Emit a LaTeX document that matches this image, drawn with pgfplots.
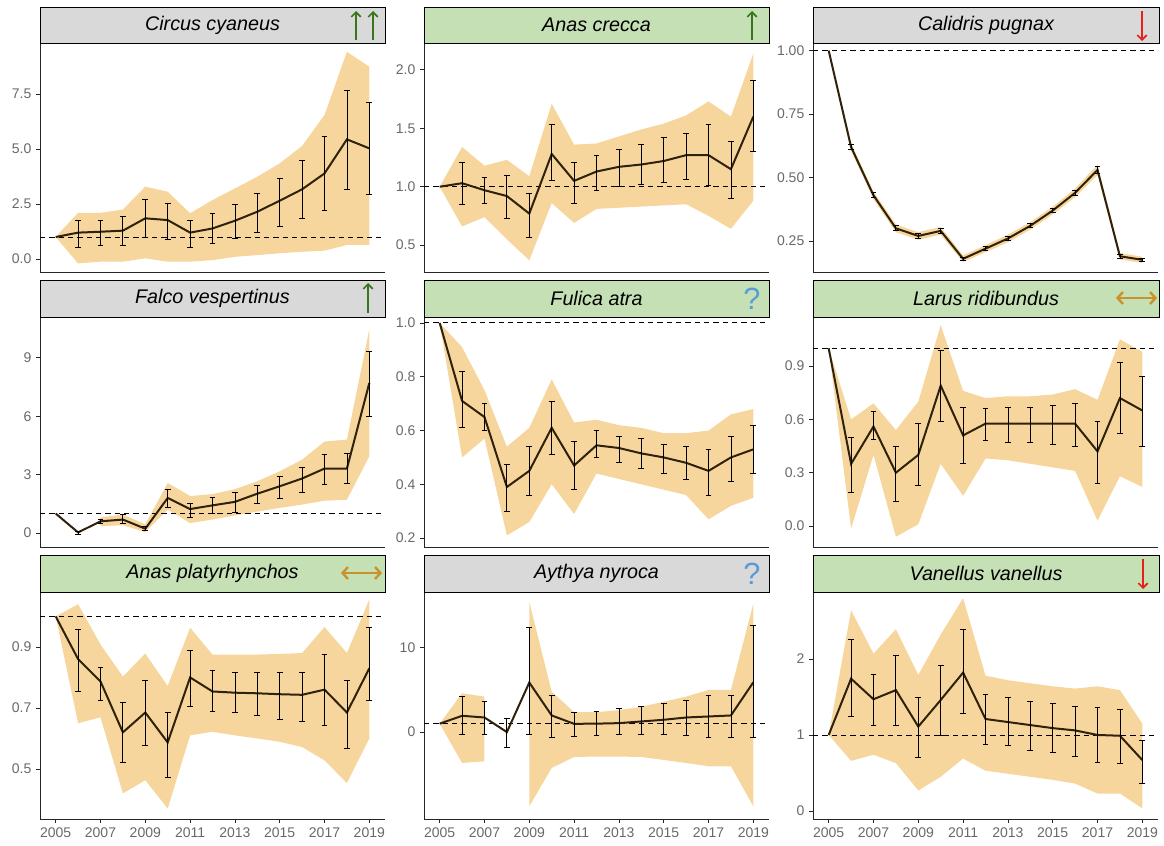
\documentclass[border=0pt]{standalone}
\usepackage{fontspec}
\setmainfont{Liberation Sans}
\usepackage{pgfplots}
\pgfplotsset{compat=1.18}
\usepackage{pgfplotstable}
\usepgfplotslibrary{fillbetween}
\usetikzlibrary{arrows.meta}

\definecolor{rib}{RGB}{246,214,156}
\definecolor{linebrown}{RGB}{48,33,12}
\definecolor{stripgray}{RGB}{217,217,217}
\definecolor{stripgreen}{RGB}{197,224,180}
\definecolor{tickgray}{RGB}{105,105,105}
\definecolor{agreen}{RGB}{56,118,29}
\definecolor{ared}{RGB}{232,32,26}
\definecolor{agold}{RGB}{201,146,43}
\definecolor{ablue}{RGB}{91,155,213}

% columns: year, index, ribbon low, ribbon high, error-bar low, error-bar high
\pgfplotstableread{
x y lo hi el eh
2005 1.00 1.00 1.00 1.00 1.00
2006 1.20 -0.20 2.10 0.53 1.74
2007 1.24 -0.12 2.10 0.64 1.74
2008 1.29 -0.12 2.25 0.64 1.95
2009 1.85 0.03 3.29 0.98 2.73
2010 1.77 -0.12 3.06 0.89 2.53
2011 1.20 -0.12 2.08 0.53 1.74
2012 1.39 -0.05 2.68 0.71 2.08
2013 1.74 0.10 3.21 0.94 2.48
2014 2.15 0.18 3.74 1.21 2.98
2015 2.65 0.26 4.35 1.50 3.67
2016 3.17 0.33 5.14 1.83 4.47
2017 3.89 0.38 6.55 2.23 5.56
2018 5.44 0.64 9.42 3.18 7.68
2019 5.03 0.64 8.74 2.94 7.10
}\tCircus

\pgfplotstableread{
x y lo hi el eh
2005 1.00 1.00 1.00 1.00 1.00
2006 1.03 0.66 1.34 0.85 1.21
2007 0.97 0.74 1.18 0.86 1.08
2008 0.92 0.55 1.23 0.73 1.10
2009 0.77 0.37 1.09 0.57 0.94
2010 1.28 0.86 1.71 1.05 1.53
2011 1.05 0.69 1.36 0.86 1.21
2012 1.13 0.81 1.37 0.97 1.27
2013 1.17 0.82 1.43 1.00 1.32
2014 1.19 0.83 1.49 1.02 1.36
2015 1.22 0.84 1.54 1.04 1.42
2016 1.27 0.85 1.61 1.06 1.46
2017 1.27 0.75 1.73 1.01 1.53
2018 1.15 0.64 1.60 0.90 1.39
2019 1.60 0.88 2.14 1.30 1.91
}\tCrecca

\pgfplotstableread{
x y lo hi el eh
2005 1.000 1.000 1.000 1.000 1.000
2006 0.620 0.605 0.635 0.610 0.630
2007 0.430 0.415 0.445 0.420 0.440
2008 0.300 0.285 0.315 0.290 0.310
2009 0.270 0.255 0.285 0.260 0.280
2010 0.290 0.275 0.305 0.280 0.300
2011 0.180 0.167 0.193 0.173 0.187
2012 0.220 0.206 0.234 0.212 0.228
2013 0.260 0.245 0.275 0.252 0.268
2014 0.310 0.295 0.325 0.302 0.318
2015 0.370 0.355 0.385 0.362 0.378
2016 0.440 0.423 0.457 0.430 0.450
2017 0.530 0.510 0.550 0.518 0.545
2018 0.190 0.177 0.203 0.182 0.198
2019 0.176 0.164 0.188 0.170 0.182
}\tCalidris

\pgfplotstableread{
x y lo hi el eh
2005 1.00 1.00 1.00 1.00 1.00
2006 0.03 0.03 0.03 -0.05 0.10
2007 0.60 0.35 0.80 0.48 0.68
2008 0.69 0.40 0.95 0.51 0.94
2009 0.22 0.05 0.45 0.12 0.34
2010 1.80 1.20 2.57 1.29 2.26
2011 1.23 0.51 1.90 0.82 1.54
2012 1.42 0.69 2.00 1.03 1.83
2013 1.60 0.90 2.25 1.06 2.11
2014 2.02 1.10 2.66 1.54 2.45
2015 2.40 1.29 3.17 1.80 2.91
2016 2.80 1.46 3.77 2.11 3.39
2017 3.31 1.66 4.70 2.49 4.03
2018 3.31 1.71 4.80 2.57 4.11
2019 7.71 3.94 10.46 6.00 9.34
}\tFalco

\pgfplotstableread{
x y lo hi el eh
2005 1.00 1.00 1.00 1.00 1.00
2006 0.71 0.50 0.91 0.61 0.82
2007 0.65 0.57 0.75 0.60 0.70
2008 0.39 0.21 0.54 0.30 0.475
2009 0.45 0.26 0.61 0.36 0.54
2010 0.61 0.40 0.79 0.51 0.71
2011 0.47 0.29 0.63 0.38 0.56
2012 0.545 0.44 0.64 0.50 0.60
2013 0.535 0.42 0.62 0.48 0.58
2014 0.515 0.40 0.61 0.46 0.57
2015 0.50 0.38 0.59 0.44 0.55
2016 0.48 0.36 0.59 0.42 0.54
2017 0.45 0.27 0.60 0.36 0.53
2018 0.50 0.32 0.66 0.41 0.58
2019 0.53 0.35 0.68 0.44 0.62
}\tFulica

\pgfplotstableread{
x y lo hi el eh
2005 1.00 1.00 1.00 1.00 1.00
2006 0.35 -0.015 0.60 0.19 0.50
2007 0.56 0.40 0.69 0.49 0.645
2008 0.30 -0.06 0.54 0.14 0.45
2009 0.40 0.01 0.70 0.23 0.576
2010 0.79 0.35 1.13 0.59 0.99
2011 0.51 0.17 0.76 0.355 0.67
2012 0.576 0.38 0.72 0.48 0.66
2013 0.576 0.37 0.73 0.47 0.67
2014 0.576 0.35 0.73 0.47 0.67
2015 0.576 0.33 0.74 0.46 0.68
2016 0.576 0.31 0.77 0.45 0.69
2017 0.42 0.03 0.71 0.24 0.59
2018 0.72 0.28 1.05 0.52 0.92
2019 0.65 0.22 0.98 0.45 0.84
}\tLarus

\pgfplotstableread{
x y lo hi el eh
2005 1.00 1.00 1.00 1.00 1.00
2006 0.86 0.65 1.04 0.754 0.957
2007 0.787 0.669 0.908 0.724 0.833
2008 0.62 0.42 0.803 0.52 0.718
2009 0.685 0.463 0.878 0.578 0.79
2010 0.587 0.37 0.772 0.474 0.686
2011 0.80 0.61 0.963 0.704 0.89
2012 0.754 0.622 0.875 0.69 0.822
2013 0.75 0.61 0.875 0.685 0.816
2014 0.748 0.60 0.875 0.675 0.816
2015 0.745 0.589 0.877 0.664 0.816
2016 0.743 0.572 0.88 0.655 0.816
2017 0.76 0.528 0.965 0.644 0.875
2018 0.685 0.454 0.88 0.567 0.79
2019 0.83 0.60 1.056 0.726 0.965
}\tPlaty

\pgfplotstableread{
x y lo hi el eh
2005 1.00 1.00 1.00 1.00 1.00
2006 1.93 -3.66 4.60 -0.30 4.20
2007 1.73 -3.46 4.20 -0.30 3.60
2008 0.00 0.00 0.00 -1.80 1.65
2009 5.87 -8.80 15.40 -0.30 12.40
2010 1.97 -4.25 4.80 -0.60 4.40
2011 0.98 -2.95 2.36 -0.50 2.30
2012 1.00 -2.90 2.36 -0.40 2.45
2013 1.06 -2.90 2.60 -0.30 2.83
2014 1.26 -2.95 3.00 -0.30 3.10
2015 1.46 -3.30 3.60 -0.30 3.40
2016 1.73 -3.66 4.20 -0.40 3.80
2017 1.85 -4.05 5.00 -0.60 4.40
2018 1.97 -4.05 5.00 -0.60 4.40
2019 5.90 -8.80 15.20 -0.60 12.60
}\tAythya

\pgfplotstableread{
x y lo hi el eh
2005 1.00 1.00 1.00 1.00 1.00
2006 1.74 0.66 2.64 1.24 2.26
2007 1.47 0.74 2.07 1.12 1.80
2008 1.59 0.63 2.39 1.13 2.05
2009 1.11 0.27 1.79 0.70 1.50
2010 1.46 0.45 2.32 0.99 1.92
2011 1.82 0.69 2.80 1.29 2.39
2012 1.21 0.53 1.78 0.88 1.54
2013 1.17 0.49 1.72 0.86 1.50
2014 1.13 0.45 1.68 0.80 1.44
2015 1.09 0.41 1.64 0.77 1.41
2016 1.06 0.36 1.61 0.72 1.37
2017 1.00 0.23 1.64 0.64 1.36
2018 0.99 0.23 1.59 0.63 1.33
2019 0.67 0.035 1.15 0.36 0.93
}\tVanellus

\pgfplotsset{
  panel/.style={
    scale only axis, width=258.75pt, anchor=south west,
    xmin=2004.3, xmax=2019.7,
    axis x line*=bottom, axis y line*=left,
    axis line style={-, draw=black!85, line width=0.7pt},
    tick align=outside, major tick length=3pt,
    tick style={draw=black!85, line width=0.6pt},
    ticklabel style={font=\fontsize{10.5}{11}\selectfont, text=tickgray},
    /pgf/number format/assume math mode=true,
    /pgf/number format/1000 sep={},
    xtick=\empty,
  },
  rowA/.style={height=171.75pt},
  rowB/.style={height=172.5pt},
  rowC/.style={height=170.25pt, xtick={2005,2007,...,2019}},
  dec1/.style={yticklabel style={/pgf/number format/.cd, fixed, fixed zerofill, precision=1}},
  dec2/.style={yticklabel style={/pgf/number format/.cd, fixed, fixed zerofill, precision=2}},
  ebar/.style={draw=none, mark=none, forget plot,
    error bars/y dir=both, error bars/y explicit,
    error bars/error bar style={draw=black, solid, line width=0.6pt},
    error bars/error mark options={draw=black, solid, line width=0.6pt, mark size=2.2pt, rotate=90}},
}

\newcommand\ribbon[2][]{%
  \addplot[name path=U, draw=none, forget plot, #1] table[x=x,y=hi]{#2};
  \addplot[name path=L, draw=none, forget plot, #1] table[x=x,y=lo]{#2};
  \addplot[fill=rib, draw=none, forget plot] fill between[of=U and L];
}
\newcommand\series[1]{%
  \addplot[black, line width=0.65pt, dash pattern=on 4pt off 3pt, forget plot] coordinates {(2004.3,1) (2019.7,1)};
  \addplot[line width=1.5pt, linebrown, mark=none, forget plot] table[x=x,y=y]{#1};
  \addplot[skip coords between index={0}{1}, ebar] table[x=x,y=y,
     y error plus expr=\thisrow{eh}-\thisrow{y},
     y error minus expr=\thisrow{y}-\thisrow{el}]{#1};
}

\begin{document}
\begin{tikzpicture}
\begin{scope}[x=0.75pt,y=-0.75pt]
\useasboundingbox (0,0) rectangle (1164,846);
\end{scope}

% Row 1
\begin{axis}[panel, rowA, dec1, at={(30pt,-204pt)}, ymin=-0.59, ymax=9.82, ytick={0,2.5,5,7.5}]
\ribbon{\tCircus}
\series{\tCircus}
\end{axis}
\begin{axis}[panel, rowA, dec1, at={(318pt,-204pt)}, ymin=0.27, ymax=2.23, ytick={0.5,1,1.5,2}]
\ribbon{\tCrecca}
\series{\tCrecca}
\end{axis}
\begin{axis}[panel, rowA, dec2, at={(609.75pt,-204pt)}, ymin=0.128, ymax=1.03, ytick={0.25,0.5,0.75,1}]
\ribbon{\tCalidris}
\series{\tCalidris}
\end{axis}

% Row 2
\begin{axis}[panel, rowB, at={(30pt,-410.25pt)}, ymin=-0.72, ymax=11.1, ytick={0,3,6,9}]
\ribbon[skip coords between index={0}{2}]{\tFalco}
\series{\tFalco}
\end{axis}
\begin{axis}[panel, rowB, dec1, at={(318pt,-410.25pt)}, ymin=0.167, ymax=1.022, ytick={0.2,0.4,0.6,0.8,1}]
\ribbon{\tFulica}
\series{\tFulica}
\end{axis}
\begin{axis}[panel, rowB, dec1, at={(609.75pt,-410.25pt)}, ymin=-0.118, ymax=1.176, ytick={0,0.3,0.6,0.9}]
\ribbon{\tLarus}
\series{\tLarus}
\end{axis}

% Row 3
\begin{axis}[panel, rowC, dec1, at={(30pt,-614.25pt)}, ymin=0.336, ymax=1.08, ytick={0.5,0.7,0.9}]
\ribbon{\tPlaty}
\series{\tPlaty}
\end{axis}
\begin{axis}[panel, rowC, at={(318pt,-614.25pt)}, ymin=-10.3, ymax=16.6, ytick={0,10}]
\ribbon[skip coords between index={3}{15}]{\tAythya}
\ribbon[skip coords between index={0}{4}]{\tAythya}
\series{\tAythya}
\end{axis}
\begin{axis}[panel, rowC, at={(609.75pt,-614.25pt)}, ymin=-0.105, ymax=2.88, ytick={0,1,2}]
\ribbon{\tVanellus}
\series{\tVanellus}
\end{axis}

% strips, titles and trend symbols
\begin{scope}[x=0.75pt,y=-0.75pt]
\tikzset{strip/.style={draw=black, line width=0.75pt},
  ttl/.style={font=\fontsize{14.8}{16}\selectfont\itshape, text=black},
  up/.style={draw=agreen, line width=1.3pt, -{Straight Barb[length=3.5pt,width=7pt]}},
  down/.style={draw=ared, line width=1.3pt, -{Straight Barb[length=3.5pt,width=7pt]}},
  both/.style={draw=agold, line width=1.8pt, {Straight Barb[length=4pt,width=9pt]}-{Straight Barb[length=4pt,width=9pt]}},
  qm/.style={font=\fontsize{23}{23}\selectfont, text=ablue}}
\filldraw[strip, fill=stripgray] (40,7) rectangle (385,43);
\node[ttl] at (212.5,25) {Circus cyaneus};
\draw[up] (356,40) -- (356,11);
\draw[up] (373,40) -- (373,11);

\filldraw[strip, fill=stripgreen] (424,7) rectangle (769,43);
\node[ttl] at (596.5,25) {Anas crecca};
\draw[up] (752,40) -- (752,11);

\filldraw[strip, fill=stripgray] (813,7) rectangle (1159,43);
\node[ttl] at (986,25) {Calidris pugnax};
\draw[down] (1142,11) -- (1142,41);

\filldraw[strip, fill=stripgray] (40,280) rectangle (385,317);
\node[ttl] at (212.5,298.5) {Falco vespertinus};
\draw[up] (368,313) -- (368,283);

\filldraw[strip, fill=stripgreen] (424,280) rectangle (769,317);
\node[ttl] at (596.5,298.5) {Fulica atra};
\node[qm] at (752,299) {?};

\filldraw[strip, fill=stripgreen] (813,280) rectangle (1159,317);
\node[ttl] at (986,298.5) {Larus ridibundus};
\draw[both] (1116,298) -- (1157,298);

\filldraw[strip, fill=stripgreen] (40,555) rectangle (385,592);
\node[ttl] at (212.5,573.5) {Anas platyrhynchos};
\draw[both] (341,573) -- (382,573);

\filldraw[strip, fill=stripgray] (424,555) rectangle (769,592);
\node[ttl] at (596.5,573.5) {Aythya nyroca};
\node[qm] at (752,574) {?};

\filldraw[strip, fill=stripgreen] (813,555) rectangle (1159,592);
\node[ttl] at (986,573.5) {Vanellus vanellus};
\draw[down] (1143,559) -- (1143,589);
\end{scope}
\end{tikzpicture}
\end{document}
